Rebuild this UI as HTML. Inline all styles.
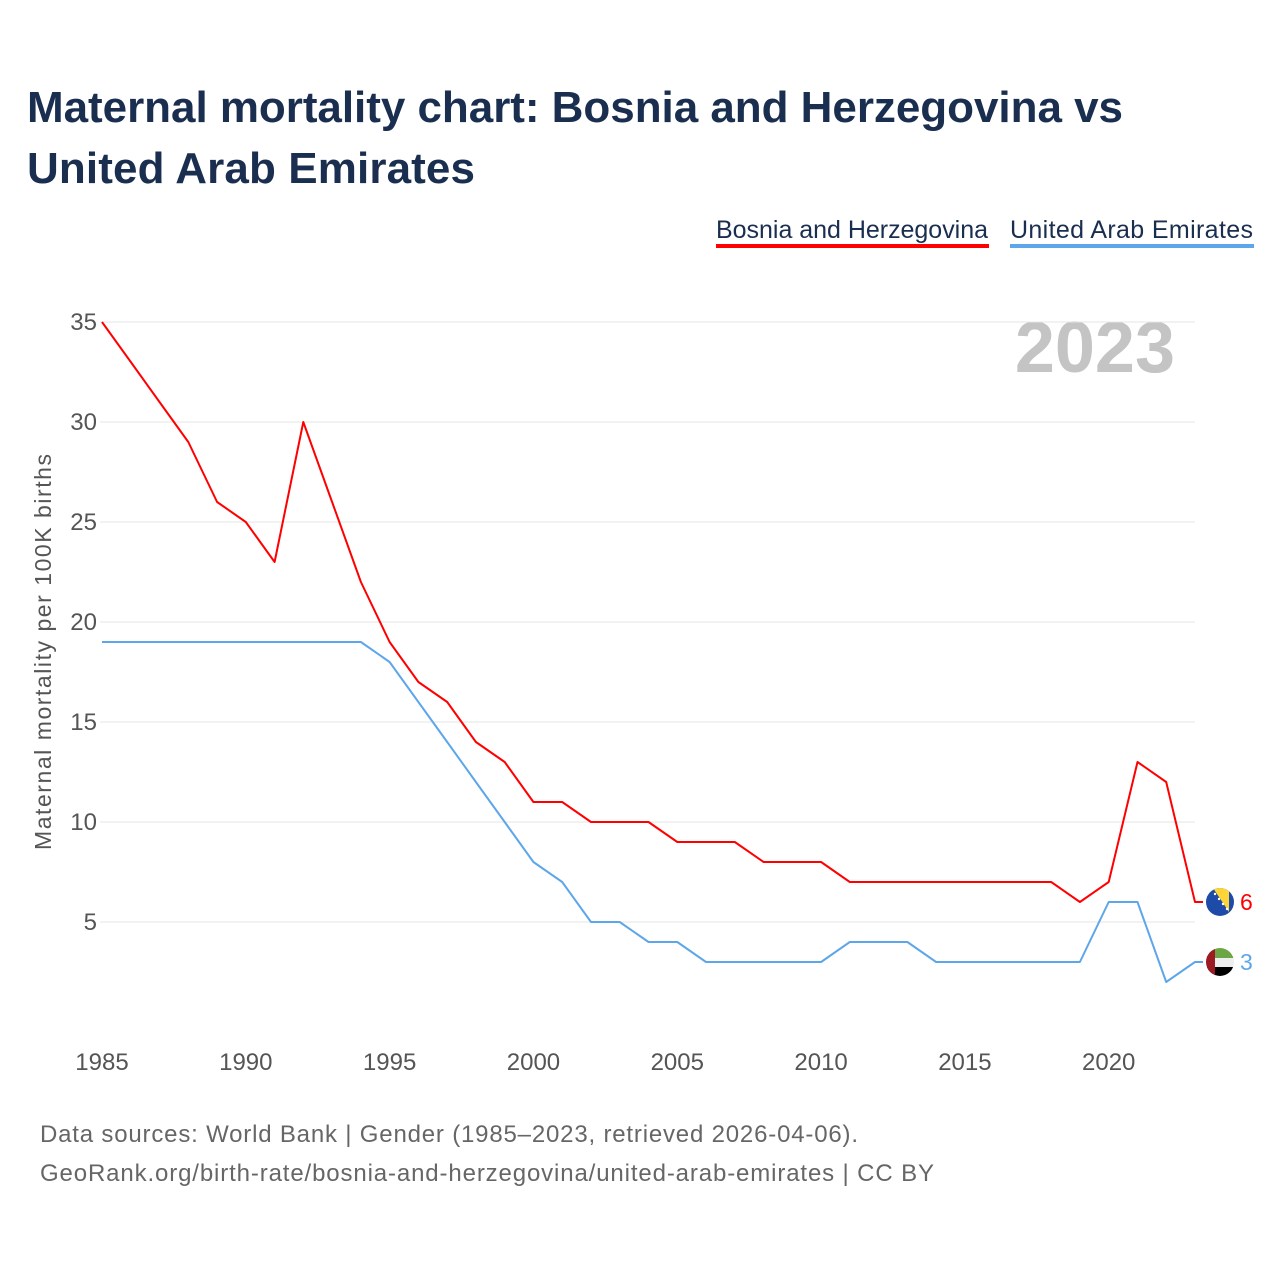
<!DOCTYPE html>
<html><head><meta charset="utf-8"><style>
body{margin:0;width:1280px;height:1280px;background:#fff;font-family:"Liberation Sans",sans-serif;overflow:hidden}
</style></head><body>
<svg width="1280" height="1280" xmlns="http://www.w3.org/2000/svg">
<text x="27" y="122" font-size="44" font-weight="bold" fill="#1a2e4f" textLength="1096">Maternal mortality chart: Bosnia and Herzegovina vs</text>
<text x="27" y="183" font-size="44" font-weight="bold" fill="#1a2e4f" textLength="448">United Arab Emirates</text>
<g><text x="716" y="238" font-size="25" fill="#1a2e4f" textLength="272">Bosnia and Herzegovina</text><rect x="716" y="244" width="273" height="4" fill="#f00"/></g>
<g><text x="1010" y="238" font-size="25" fill="#1a2e4f" textLength="243">United Arab Emirates</text><rect x="1010" y="244" width="244" height="4" fill="#5ea6ea"/></g>
<text x="1175" y="372" font-size="72" font-weight="bold" fill="#c4c4c4" text-anchor="end">2023</text>
<text transform="translate(51,652) rotate(-90)" font-size="23" fill="#555" text-anchor="middle" textLength="396">Maternal mortality per 100K births</text>
<g id="grid"></g><g id="yt"></g><g id="xt"></g><g id="series"></g>
<text x="40" y="1142" font-size="24" fill="#666" textLength="818">Data sources: World Bank | Gender (1985–2023, retrieved 2026-04-06).</text>
<text x="40" y="1181" font-size="24" fill="#666" textLength="894">GeoRank.org/birth-rate/bosnia-and-herzegovina/united-arab-emirates | CC BY</text>
</svg>
<script>
const years=[];for(let y=1985;y<=2023;y++)years.push(y);
const bosnia=[35,33,31,29,26,25,23,30,26,22,19,17,16,14,13,11,11,10,10,10,9,9,9,8,8,8,7,7,7,7,7,7,7,7,6,7,13,12,6];
const uae=[19,19,19,19,19,19,19,19,19,19,18,16,14,12,10,8,7,5,5,4,4,3,3,3,3,3,4,4,4,3,3,3,3,3,3,6,6,2,3];
const yTicks=[5,10,15,20,25,30,35];
const xTicks=[1985,1990,1995,2000,2005,2010,2015,2020];
const NS="http://www.w3.org/2000/svg";
const X=y=>102+(y-1985)*(1195-102)/38;
const Y=v=>1022-v*20;
function mk(t,a,p){const e=document.createElementNS(NS,t);for(const k in a)e.setAttribute(k,a[k]);document.getElementById(p).appendChild(e);return e;}
yTicks.forEach(v=>{
 const l=mk('line',{x1:100,x2:1195,y1:Y(v),y2:Y(v),stroke:'#e6e6e6','stroke-width':1},'grid');
 
 
 const t=mk('text',{x:97,y:Y(v)+8,'font-size':24,fill:'#555','text-anchor':'end'},'yt');t.textContent=v;
 
 
});
xTicks.forEach(v=>{
 const t=mk('text',{x:X(v),y:1070,'font-size':24,fill:'#555','text-anchor':'middle'},'xt');t.textContent=v;
 
 
});
function series(vals,color,name){
 let d=vals.map((v,i)=>(i?'L':'M')+X(years[i]).toFixed(1)+','+Y(v)).join(' ');
 d+=' L'+(X(2023)+8)+','+Y(vals[vals.length-1]);
 const p=mk('path',{d:d,fill:'none',stroke:color,'stroke-width':2,'stroke-linejoin':'round'},'series');
 
 
 const t=mk('text',{x:1240,y:Y(vals[vals.length-1])+8,'font-size':23,fill:color},'series');t.textContent=vals[vals.length-1];
 
 
 return Y(vals[vals.length-1]);
}
const yb=series(bosnia,'#f00','bosnia');
const yu=series(uae,'#5ea6ea','uae');
const cx=1220;
let g=mk('g',{},'series');
g.innerHTML=`<clipPath id="cb"><circle cx="${cx}" cy="${yb}" r="14"/></clipPath><g clip-path="url(#cb)"><rect x="${cx-14}" y="${yb-14}" width="28" height="28" fill="#1e4aa8"/><polygon points="${cx-7},${yb-14} ${cx+9},${yb-14} ${cx+9},${yb+10}" fill="#fdd536"/><g fill="#fff"><circle cx="${cx-5}" cy="${yb-8}" r="1.2"/><circle cx="${cx-1}" cy="${yb-3}" r="1.2"/><circle cx="${cx+3}" cy="${yb+2}" r="1.2"/><circle cx="${cx+7}" cy="${yb+7}" r="1.2"/></g></g>`;
g=mk('g',{},'series');
g.innerHTML=`<clipPath id="cu"><circle cx="${cx}" cy="${yu}" r="14"/></clipPath><g clip-path="url(#cu)"><rect x="${cx-14}" y="${yu-14}" width="28" height="10" fill="#6ca644"/><rect x="${cx-14}" y="${yu-4}" width="28" height="9" fill="#eee"/><rect x="${cx-14}" y="${yu+5}" width="28" height="10" fill="#000"/><rect x="${cx-14}" y="${yu-14}" width="9" height="28" fill="#9c1a22"/></g>`;
</script>
</body></html>
